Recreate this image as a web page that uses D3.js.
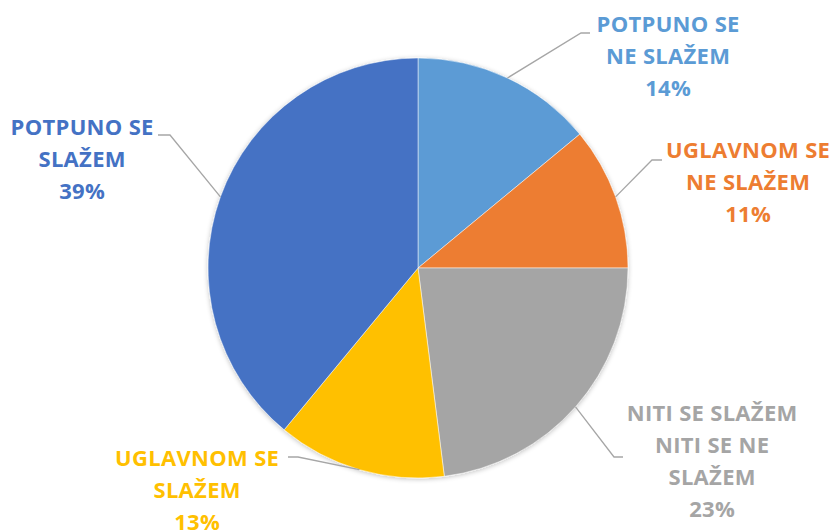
<!DOCTYPE html>
<html><head><meta charset="utf-8">
<script src="https://cdn.jsdelivr.net/npm/d3@7"></script>
<style>html,body{margin:0;padding:0;background:#fff;}</style>
</head><body>
<svg id="chart" width="835" height="530"></svg>
<script>
const categories = ["POTPUNO SE NE SLAŽEM", "UGLAVNOM SE NE SLAŽEM", "NITI SE SLAŽEM NITI SE NE SLAŽEM", "UGLAVNOM SE SLAŽEM", "POTPUNO SE SLAŽEM"];
const values = [14, 11, 23, 13, 39];
const labelLines = [
  ["POTPUNO SE", "NE SLAŽEM"],
  ["UGLAVNOM SE", "NE SLAŽEM"],
  ["NITI SE SLAŽEM", "NITI SE NE", "SLAŽEM"],
  ["UGLAVNOM SE", "SLAŽEM"],
  ["POTPUNO SE", "SLAŽEM"]
];
const colors = ["#5B9BD5", "#ED7D31", "#A5A5A5", "#FFC000", "#4472C4"];

// layout (label centre x, first baseline y, leader elbow & end)
const layout = [
  {x: 668, y: 32, elbow: [581, 33], end: [590, 33]},
  {x: 748, y: 158, elbow: [652, 160], end: [662, 160]},
  {x: 712, y: 421, elbow: [614, 457], end: [623, 457]},
  {x: 197, y: 466, elbow: [298, 457], end: [288, 457]},
  {x: 82, y: 135, elbow: [170, 135], end: [158, 135]}
];

const svg = d3.select("#chart");
const cx = 418, cy = 268, r = 210;
const g = svg.append("g").attr("transform", `translate(${cx},${cy})`);

const pie = d3.pie().sort(null).value(d => d)(values);
const arc = d3.arc().innerRadius(0).outerRadius(r);
const color = d3.scaleOrdinal().domain(categories).range(colors);

const defs = svg.append("defs");
const f = defs.append("filter").attr("id","sh").attr("x","-20%").attr("y","-20%").attr("width","140%").attr("height","140%");
f.append("feGaussianBlur").attr("in","SourceAlpha").attr("stdDeviation",2.5);
f.append("feOffset").attr("dx",0).attr("dy",1).attr("result","b");
f.append("feComponentTransfer").append("feFuncA").attr("type","linear").attr("slope",0.25);
const m = f.append("feMerge"); m.append("feMergeNode"); m.append("feMergeNode").attr("in","SourceGraphic");

const slices = g.append("g").attr("filter","url(#sh)");
slices.selectAll("path").data(pie).join("path")
  .attr("d", arc)
  .attr("fill", (d,i) => color(categories[i]))
  .attr("stroke", "#fff").attr("stroke-width", 0.5);

// leader lines
pie.forEach((d,i) => {
  const a = (d.startAngle + d.endAngle) / 2;
  const p0 = [cx + r*Math.sin(a), cy - r*Math.cos(a)];
  const L = layout[i];
  svg.append("path")
    .attr("d", d3.line()([p0, L.elbow, L.end]))
    .attr("fill","none").attr("stroke","#A6A6A6").attr("stroke-width",1.3);
});

// labels
const fmt = d3.format(".0%");
const total = d3.sum(values);
pie.forEach((d,i) => {
  const L = layout[i];
  const lines = labelLines[i].concat([fmt(values[i]/total)]);
  const t = svg.append("text")
    .attr("text-anchor","middle")
    .attr("font-family","'Open Sans', Lato, sans-serif")
    .attr("font-weight","bold")
    .attr("font-size","22px")
    .attr("letter-spacing","0.3px")
    .attr("fill", color(categories[i]));
  lines.forEach((s,j) => {
    t.append("tspan").attr("x", L.x + 0.15).attr("y", L.y + j*32).text(s);
  });
});
</script>
</body></html>
